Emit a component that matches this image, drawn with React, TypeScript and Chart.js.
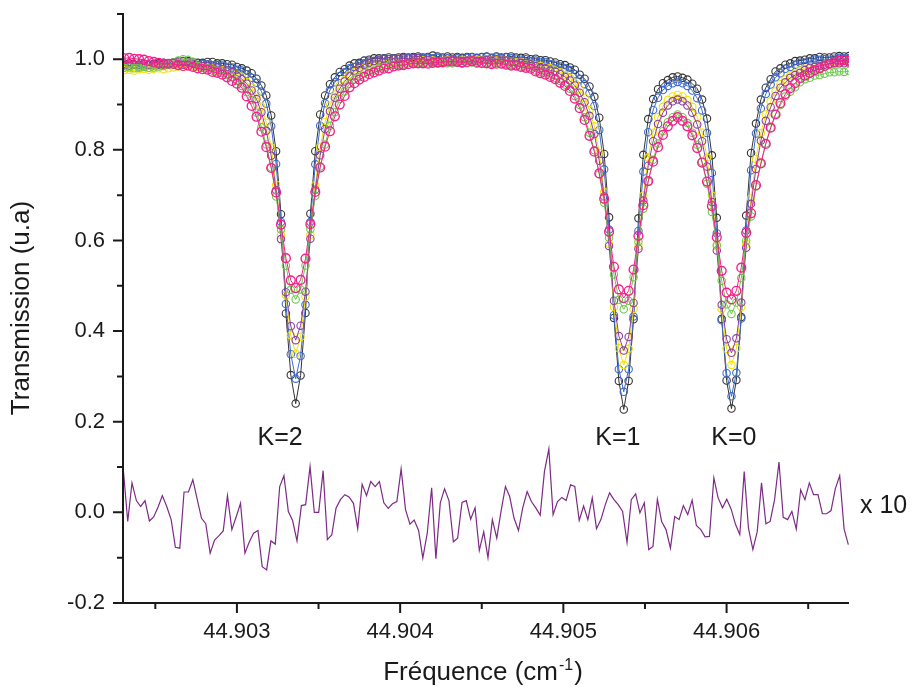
import React, { useEffect, useRef } from "react";
import { Chart, registerables } from "chart.js";

Chart.register(...registerables);

const FONT = '"Liberation Sans", Arial, Helvetica, sans-serif';
const INK = "#1a1a1a";

// Frequency grid of the measured spectra (cm-1)
const FREQ = [
  44.90231, 44.90234, 44.90237, 44.9024, 44.90243, 44.90246, 44.90249, 44.90252, 44.90255, 44.90258,
  44.90261, 44.90264, 44.90267, 44.9027, 44.90273, 44.90276, 44.90279, 44.90282, 44.90285, 44.90288,
  44.90291, 44.90294, 44.90297, 44.903, 44.90303, 44.90306, 44.90309, 44.90312, 44.90315, 44.90318,
  44.90321, 44.90324, 44.90327, 44.9033, 44.90333, 44.90336, 44.90339, 44.90342, 44.90345, 44.90348,
  44.90351, 44.90354, 44.90357, 44.9036, 44.90363, 44.90366, 44.90369, 44.90372, 44.90375, 44.90378,
  44.90381, 44.90384, 44.90387, 44.9039, 44.90393, 44.90396, 44.90399, 44.90402, 44.90405, 44.90408,
  44.90411, 44.90414, 44.90417, 44.9042, 44.90423, 44.90426, 44.90429, 44.90432, 44.90435, 44.90438,
  44.90441, 44.90444, 44.90447, 44.9045, 44.90453, 44.90456, 44.90459, 44.90462, 44.90465, 44.90468,
  44.90471, 44.90474, 44.90477, 44.9048, 44.90483, 44.90486, 44.90489, 44.90492, 44.90495, 44.90498,
  44.90501, 44.90504, 44.90507, 44.9051, 44.90513, 44.90516, 44.90519, 44.90522, 44.90525, 44.90528,
  44.90531, 44.90534, 44.90537, 44.9054, 44.90543, 44.90546, 44.90549, 44.90552, 44.90555, 44.90558,
  44.90561, 44.90564, 44.90567, 44.9057, 44.90573, 44.90576, 44.90579, 44.90582, 44.90585, 44.90588,
  44.90591, 44.90594, 44.90597, 44.906, 44.90603, 44.90606, 44.90609, 44.90612, 44.90615, 44.90618,
  44.90621, 44.90624, 44.90627, 44.9063, 44.90633, 44.90636, 44.90639, 44.90642, 44.90645, 44.90648,
  44.90651, 44.90654, 44.90657, 44.9066, 44.90663, 44.90666, 44.90669, 44.90672, 44.90675,
];

const BLACK = [
  0.99, 0.991, 0.989, 0.988, 0.99, 0.988, 0.99, 0.991, 0.992, 0.991,
  0.993, 0.995, 0.996, 0.996, 0.994, 0.992, 0.992, 0.994, 0.994, 0.991,
  0.991, 0.989, 0.988, 0.983, 0.98, 0.975, 0.969, 0.957, 0.942, 0.92,
  0.876, 0.797, 0.658, 0.439, 0.303, 0.24, 0.302, 0.44, 0.659, 0.797,
  0.878, 0.92, 0.945, 0.96, 0.972, 0.978, 0.986, 0.991, 0.992, 0.997,
  0.999, 1.002, 1.002, 1.002, 1.004, 1.002, 1.004, 1.005, 1.004, 1.005,
  1.006, 1.004, 1.005, 1.008, 1.006, 1.004, 1.006, 1.004, 1.005, 1.003,
  1.005, 1.005, 1.003, 1.005, 1.006, 1.003, 1.006, 1.004, 1.005, 1.006,
  1.004, 1.003, 1.004, 1.0, 1.001, 0.998, 0.998, 0.995, 0.993, 0.989,
  0.987, 0.982, 0.977, 0.966, 0.957, 0.94, 0.917, 0.871, 0.791, 0.651,
  0.429, 0.29, 0.227, 0.29, 0.426, 0.649, 0.789, 0.868, 0.912, 0.934,
  0.947, 0.954, 0.96, 0.962, 0.959, 0.955, 0.946, 0.935, 0.911, 0.869,
  0.788, 0.65, 0.427, 0.291, 0.229, 0.292, 0.431, 0.655, 0.793, 0.858,
  0.911, 0.937, 0.956, 0.973, 0.98, 0.988, 0.991, 0.996, 0.997, 0.999,
  1.002, 1.002, 1.005, 1.004, 1.004, 1.006, 1.007, 1.006, 1.007,
];

const BLUE = [
  0.986, 0.985, 0.987, 0.984, 0.985, 0.987, 0.986, 0.988, 0.986, 0.988,
  0.988, 0.99, 0.988, 0.99, 0.99, 0.987, 0.989, 0.989, 0.986, 0.987,
  0.986, 0.983, 0.982, 0.977, 0.975, 0.967, 0.959, 0.948, 0.929, 0.902,
  0.852, 0.769, 0.641, 0.46, 0.349, 0.295, 0.345, 0.458, 0.641, 0.768,
  0.853, 0.903, 0.932, 0.949, 0.963, 0.971, 0.98, 0.983, 0.989, 0.991,
  0.995, 0.996, 0.999, 1.001, 1.0, 1.001, 1.0, 1.002, 1.003, 1.002,
  1.003, 1.002, 1.003, 1.002, 1.003, 1.001, 1.002, 1.0, 1.002, 1.001,
  1.003, 1.004, 1.002, 1.004, 1.005, 1.002, 1.004, 1.002, 1.004, 1.002,
  1.001, 0.999, 1.0, 0.996, 0.997, 0.994, 0.994, 0.989, 0.988, 0.984,
  0.98, 0.976, 0.967, 0.956, 0.945, 0.925, 0.897, 0.844, 0.757, 0.624,
  0.435, 0.316, 0.266, 0.316, 0.432, 0.621, 0.752, 0.839, 0.888, 0.915,
  0.932, 0.941, 0.947, 0.95, 0.947, 0.941, 0.931, 0.914, 0.887, 0.837,
  0.749, 0.616, 0.424, 0.307, 0.256, 0.308, 0.428, 0.622, 0.755, 0.836,
  0.891, 0.923, 0.944, 0.96, 0.969, 0.979, 0.983, 0.988, 0.992, 0.993,
  0.996, 0.999, 0.999, 1.0, 0.999, 1.001, 1.003, 1.002, 1.002,
];

const YELLOW = [
  0.976, 0.977, 0.975, 0.978, 0.979, 0.977, 0.979, 0.98, 0.978, 0.98,
  0.982, 0.984, 0.983, 0.985, 0.984, 0.983, 0.982, 0.981, 0.98, 0.978,
  0.976, 0.974, 0.969, 0.966, 0.961, 0.95, 0.938, 0.921, 0.895, 0.86,
  0.805, 0.723, 0.612, 0.479, 0.391, 0.35, 0.387, 0.476, 0.612, 0.722,
  0.806, 0.861, 0.898, 0.922, 0.942, 0.954, 0.966, 0.971, 0.978, 0.981,
  0.985, 0.987, 0.991, 0.991, 0.992, 0.995, 0.995, 0.994, 0.996, 0.994,
  0.996, 0.998, 0.995, 0.997, 0.995, 0.996, 0.998, 0.995, 0.996, 0.997,
  0.998, 0.998, 0.999, 0.998, 1.0, 0.998, 0.997, 0.999, 0.997, 0.995,
  0.994, 0.994, 0.991, 0.99, 0.986, 0.985, 0.982, 0.98, 0.975, 0.971,
  0.965, 0.959, 0.948, 0.934, 0.915, 0.888, 0.852, 0.793, 0.707, 0.593,
  0.453, 0.362, 0.325, 0.361, 0.449, 0.587, 0.699, 0.783, 0.838, 0.872,
  0.895, 0.91, 0.918, 0.921, 0.918, 0.91, 0.895, 0.872, 0.838, 0.783,
  0.699, 0.587, 0.449, 0.361, 0.325, 0.362, 0.453, 0.593, 0.693, 0.78,
  0.837, 0.878, 0.907, 0.929, 0.945, 0.955, 0.964, 0.968, 0.975, 0.979,
  0.981, 0.982, 0.985, 0.988, 0.989, 0.989, 0.991, 0.993, 0.993,
];

const PURPLE = [
  0.987, 0.986, 0.988, 0.987, 0.989, 0.987, 0.989, 0.988, 0.989, 0.99,
  0.992, 0.993, 0.995, 0.993, 0.99, 0.987, 0.985, 0.985, 0.982, 0.982,
  0.978, 0.975, 0.971, 0.964, 0.956, 0.946, 0.931, 0.912, 0.883, 0.842,
  0.787, 0.711, 0.603, 0.486, 0.411, 0.38, 0.412, 0.487, 0.604, 0.712,
  0.788, 0.846, 0.885, 0.915, 0.935, 0.951, 0.962, 0.975, 0.981, 0.988,
  0.992, 0.996, 0.997, 1.0, 1.0, 1.001, 1.001, 1.002, 1.001, 1.002,
  1.002, 1.0, 0.999, 0.995, 0.996, 0.994, 0.996, 0.997, 0.995, 0.996,
  0.997, 0.999, 0.996, 0.997, 0.999, 0.997, 1.0, 0.999, 0.997, 0.995,
  0.996, 0.992, 0.992, 0.989, 0.985, 0.981, 0.98, 0.975, 0.973, 0.967,
  0.961, 0.953, 0.942, 0.926, 0.905, 0.875, 0.835, 0.776, 0.697, 0.588,
  0.467, 0.389, 0.357, 0.387, 0.462, 0.582, 0.688, 0.765, 0.819, 0.857,
  0.882, 0.898, 0.907, 0.911, 0.907, 0.898, 0.882, 0.856, 0.819, 0.763,
  0.685, 0.578, 0.458, 0.382, 0.352, 0.384, 0.463, 0.584, 0.681, 0.758,
  0.82, 0.864, 0.894, 0.919, 0.937, 0.949, 0.959, 0.965, 0.97, 0.976,
  0.981, 0.983, 0.985, 0.988, 0.99, 0.991, 0.991, 0.991, 0.993,
];

const GREEN = [
  0.981, 0.982, 0.98, 0.981, 0.983, 0.981, 0.982, 0.984, 0.985, 0.988,
  0.993, 0.997, 1.0, 0.999, 0.994, 0.985, 0.981, 0.98, 0.975, 0.973,
  0.969, 0.965, 0.96, 0.952, 0.941, 0.927, 0.91, 0.882, 0.85, 0.812,
  0.761, 0.697, 0.624, 0.544, 0.491, 0.47, 0.492, 0.545, 0.625, 0.698,
  0.763, 0.812, 0.853, 0.883, 0.912, 0.929, 0.946, 0.955, 0.961, 0.969,
  0.973, 0.975, 0.98, 0.982, 0.986, 0.987, 0.988, 0.988, 0.991, 0.992,
  0.992, 0.992, 0.991, 0.991, 0.99, 0.992, 0.991, 0.991, 0.992, 0.99,
  0.991, 0.993, 0.99, 0.99, 0.992, 0.99, 0.992, 0.989, 0.99, 0.988,
  0.986, 0.984, 0.984, 0.981, 0.975, 0.971, 0.969, 0.964, 0.958, 0.952,
  0.944, 0.935, 0.919, 0.899, 0.872, 0.838, 0.799, 0.746, 0.683, 0.606,
  0.525, 0.469, 0.448, 0.467, 0.519, 0.597, 0.67, 0.73, 0.778, 0.814,
  0.841, 0.861, 0.872, 0.878, 0.872, 0.859, 0.838, 0.811, 0.774, 0.725,
  0.663, 0.59, 0.511, 0.459, 0.438, 0.463, 0.517, 0.6, 0.653, 0.719,
  0.77, 0.814, 0.848, 0.879, 0.899, 0.918, 0.928, 0.938, 0.949, 0.956,
  0.959, 0.964, 0.965, 0.968, 0.971, 0.971, 0.973, 0.972, 0.974,
];

const PINK = [
  1.002, 1.003, 1.001, 1.0, 0.999, 0.996, 0.994, 0.992, 0.99, 0.99,
  0.99, 0.987, 0.985, 0.986, 0.983, 0.98, 0.978, 0.977, 0.972, 0.97,
  0.966, 0.96, 0.952, 0.946, 0.937, 0.918, 0.897, 0.873, 0.84, 0.806,
  0.76, 0.706, 0.635, 0.561, 0.512, 0.495, 0.513, 0.56, 0.636, 0.707,
  0.761, 0.807, 0.841, 0.874, 0.9, 0.919, 0.938, 0.947, 0.955, 0.961,
  0.967, 0.971, 0.975, 0.979, 0.98, 0.984, 0.986, 0.987, 0.989, 0.991,
  0.991, 0.991, 0.99, 0.992, 0.993, 0.993, 0.995, 0.995, 0.994, 0.993,
  0.994, 0.996, 0.994, 0.992, 0.991, 0.989, 0.99, 0.99, 0.988, 0.986,
  0.986, 0.983, 0.981, 0.979, 0.973, 0.969, 0.966, 0.961, 0.956, 0.948,
  0.941, 0.93, 0.913, 0.892, 0.866, 0.831, 0.796, 0.748, 0.692, 0.619,
  0.542, 0.492, 0.473, 0.489, 0.536, 0.61, 0.678, 0.731, 0.774, 0.806,
  0.833, 0.852, 0.864, 0.872, 0.864, 0.852, 0.832, 0.804, 0.772, 0.73,
  0.676, 0.607, 0.533, 0.485, 0.47, 0.489, 0.54, 0.617, 0.66, 0.722,
  0.77, 0.813, 0.849, 0.878, 0.903, 0.923, 0.936, 0.947, 0.958, 0.964,
  0.97, 0.976, 0.98, 0.985, 0.99, 0.994, 0.997, 0.998, 0.997,
];

// Residual (x 10) on its own frequency grid
const RES_FREQ = [
  44.902304, 44.902331, 44.902357, 44.902384, 44.90241, 44.902437, 44.902464, 44.90249, 44.902517, 44.902543,
  44.90257, 44.902597, 44.902623, 44.90265, 44.902676, 44.902703, 44.90273, 44.902756, 44.902783, 44.902809,
  44.902836, 44.902863, 44.902889, 44.902916, 44.902942, 44.902969, 44.902996, 44.903022, 44.903049, 44.903075,
  44.903102, 44.903129, 44.903155, 44.903182, 44.903208, 44.903235, 44.903262, 44.903288, 44.903315, 44.903341,
  44.903368, 44.903395, 44.903421, 44.903448, 44.903474, 44.903501, 44.903528, 44.903554, 44.903581, 44.903607,
  44.903634, 44.903661, 44.903687, 44.903714, 44.90374, 44.903767, 44.903794, 44.90382, 44.903847, 44.903873,
  44.9039, 44.903927, 44.903953, 44.90398, 44.904006, 44.904033, 44.90406, 44.904086, 44.904113, 44.904139,
  44.904166, 44.904193, 44.904219, 44.904246, 44.904272, 44.904299, 44.904326, 44.904352, 44.904379, 44.904405,
  44.904432, 44.904459, 44.904485, 44.904512, 44.904538, 44.904565, 44.904592, 44.904618, 44.904645, 44.904671,
  44.904698, 44.904725, 44.904751, 44.904778, 44.904804, 44.904831, 44.904858, 44.904884, 44.904911, 44.904937,
  44.904964, 44.904991, 44.905017, 44.905044, 44.90507, 44.905097, 44.905124, 44.90515, 44.905177, 44.905203,
  44.90523, 44.905257, 44.905283, 44.90531, 44.905336, 44.905363, 44.90539, 44.905416, 44.905443, 44.905469,
  44.905496, 44.905523, 44.905549, 44.905576, 44.905602, 44.905629, 44.905656, 44.905682, 44.905709, 44.905735,
  44.905762, 44.905789, 44.905815, 44.905842, 44.905868, 44.905895, 44.905922, 44.905948, 44.905975, 44.906001,
  44.906028, 44.906055, 44.906081, 44.906108, 44.906134, 44.906161, 44.906188, 44.906214, 44.906241, 44.906267,
  44.906294, 44.906321, 44.906347, 44.906374, 44.9064, 44.906427, 44.906454, 44.90648, 44.906507, 44.906533,
  44.90656, 44.906587, 44.906613, 44.90664, 44.906666, 44.906693, 44.90672, 44.906746,
];

const RESIDUAL = [
  0.094, -0.02, 0.065, 0.026, 0.013, 0.026, -0.019, -0.01, 0.012, 0.037,
  0.013, -0.016, -0.077, -0.079, 0.045, 0.045, 0.072, 0.03, -0.013, -0.025,
  -0.09, -0.061, -0.052, -0.041, 0.037, -0.038, -0.009, 0.02, -0.09, -0.066,
  -0.046, -0.04, -0.12, -0.127, -0.063, -0.07, 0.057, 0.081, 0.002, -0.018,
  -0.063, 0.015, 0.017, 0.101, 0.0, 0.0, 0.092, -0.06, -0.05, 0.009,
  0.028, 0.039, 0.034, 0.02, -0.036, 0.062, 0.037, 0.068, 0.057, 0.068,
  0.021, 0.009, 0.019, 0.024, 0.096, 0.006, -0.026, -0.017, -0.04, -0.101,
  -0.046, 0.054, -0.102, 0.021, 0.052, 0.026, -0.065, -0.057, 0.022, 0.026,
  -0.015, 0.01, -0.084, -0.043, -0.1, -0.016, -0.057, 0.002, 0.057, 0.035,
  -0.013, -0.04, 0.01, 0.046, 0.024, 0.01, -0.006, 0.09, 0.14, -0.005,
  0.024, 0.033, 0.026, 0.061, 0.057, -0.018, 0.014, -0.016, 0.032, -0.036,
  -0.016, 0.017, 0.043, 0.028, 0.017, 0.002, -0.066, 0.028, 0.041, -0.001,
  0.021, -0.082, -0.075, 0.029, -0.02, -0.038, -0.079, -0.009, -0.016, 0.015,
  -0.005, 0.027, -0.029, -0.038, -0.054, -0.053, 0.076, 0.032, 0.01, 0.029,
  0.007, -0.027, -0.049, 0.09, -0.035, -0.082, -0.042, 0.065, -0.025, -0.02,
  0.028, 0.111, -0.011, -0.016, 0.002, -0.037, 0.05, 0.028, 0.065, 0.039,
  0.039, -0.003, -0.003, 0.004, 0.052, 0.081, -0.037, -0.071,
];

const X_MIN = 44.902302;
const X_MAX = 44.90675;
const Y_MIN = -0.2;
const Y_MAX = 1.102;
const X_MAJOR = [44.903, 44.904, 44.905, 44.906];
const X_MINOR = [44.9025, 44.9035, 44.9045, 44.9055, 44.9065];
const Y_MAJOR = [-0.2, 0, 0.2, 0.4, 0.6, 0.8, 1.0];
const Y_MINOR = [-0.1, 0.1, 0.3, 0.5, 0.7, 0.9, 1.1];

const PEAK_LABELS = ["K=2", "K=1", "K=0"];
const PEAK_LABEL_X = [44.903265, 44.905334, 44.906045];
const PEAK_LABEL_Y = 0.163;
const SCALE_NOTE = "x 10";
const SCALE_NOTE_Y = 0.013;

const SERIES_STYLE = [
  { values: PINK, color: "#f5208b", radius: 4.4, border: 1.4 },
  { values: GREEN, color: "#6cc94c", radius: 3.7, border: 1.1 },
  { values: PURPLE, color: "#8b3fa0", radius: 3.7, border: 1.1 },
  { values: YELLOW, color: "#f2e200", radius: 3.7, border: 1.1 },
  { values: BLUE, color: "#3d6bd1", radius: 3.7, border: 1.1 },
  { values: BLACK, color: "#333333", radius: 3.7, border: 1.1 },
];

const decorPlugin = {
  id: "decor",
  afterDatasetsDraw(chart: any) {
    const { ctx, chartArea: a, scales } = chart;
    const xs = scales.x;
    const ys = scales.y;
    ctx.save();
    ctx.strokeStyle = INK;
    ctx.lineWidth = 2;
    ctx.beginPath();
    ctx.moveTo(a.left, a.top);
    ctx.lineTo(a.left, a.bottom + 1);
    ctx.moveTo(a.left - 1, a.bottom);
    ctx.lineTo(a.right, a.bottom);
    Y_MAJOR.forEach((v) => {
      const y = ys.getPixelForValue(v);
      ctx.moveTo(a.left - 10, y);
      ctx.lineTo(a.left, y);
    });
    Y_MINOR.forEach((v) => {
      const y = ys.getPixelForValue(v);
      ctx.moveTo(a.left - 6, y);
      ctx.lineTo(a.left, y);
    });
    X_MAJOR.forEach((v) => {
      const x = xs.getPixelForValue(v);
      ctx.moveTo(x, a.bottom);
      ctx.lineTo(x, a.bottom + 10);
    });
    X_MINOR.forEach((v) => {
      const x = xs.getPixelForValue(v);
      ctx.moveTo(x, a.bottom);
      ctx.lineTo(x, a.bottom + 6);
    });
    ctx.stroke();

    ctx.fillStyle = INK;
    ctx.font = `25px ${FONT}`;
    ctx.textAlign = "center";
    ctx.textBaseline = "middle";
    PEAK_LABELS.forEach((t, i) => {
      ctx.fillText(t, xs.getPixelForValue(PEAK_LABEL_X[i]), ys.getPixelForValue(PEAK_LABEL_Y));
    });
    ctx.textAlign = "left";
    ctx.fillText(SCALE_NOTE, a.right + 11, ys.getPixelForValue(SCALE_NOTE_Y));

    // x-axis title with superscript
    const main = "Fréquence (cm";
    const sup = "-1";
    const close = ")";
    ctx.textBaseline = "alphabetic";
    ctx.font = `26px ${FONT}`;
    const w1 = ctx.measureText(main).width;
    const w3 = ctx.measureText(close).width;
    ctx.font = `16px ${FONT}`;
    const w2 = ctx.measureText(sup).width;
    const total = w1 + w2 + w3;
    const cx = (a.left + a.right) / 2 - 4;
    const base = a.bottom + 77;
    const x0 = cx - total / 2;
    ctx.font = `26px ${FONT}`;
    ctx.fillText(main, x0, base);
    ctx.font = `16px ${FONT}`;
    ctx.fillText(sup, x0 + w1 + 1, base - 10);
    ctx.font = `26px ${FONT}`;
    ctx.fillText(close, x0 + w1 + w2 + 2, base);
    ctx.restore();
  },
};

export default function App() {
  const ref = useRef<HTMLCanvasElement>(null);
  useEffect(() => {
    if (!ref.current) return;
    const datasets: any[] = SERIES_STYLE.map((s, k) => ({
      data: FREQ.map((x, i) => ({ x, y: s.values[i] })),
      borderColor: s.color,
      borderWidth: 1,
      pointRadius: s.radius,
      pointBorderWidth: s.border,
      pointBorderColor: s.color,
      pointBackgroundColor: "rgba(0,0,0,0)",
      pointStyle: "circle",
      tension: 0,
      fill: false,
      order: k + 1,
    }));
    datasets.push({
      data: RES_FREQ.map((x, i) => ({ x, y: RESIDUAL[i] })),
      borderColor: "#7d2a86",
      borderWidth: 1.2,
      pointRadius: 0,
      tension: 0,
      fill: false,
      order: 10,
    });
    const chart = new Chart(ref.current, {
      type: "line",
      data: { datasets },
      options: {
        animation: false,
        responsive: false,
        devicePixelRatio: 1,
        events: [],
        layout: { padding: { top: 13, right: 65, bottom: 0, left: 0 } },
        plugins: { legend: { display: false }, tooltip: { enabled: false } },
        scales: {
          x: {
            type: "linear",
            min: X_MIN,
            max: X_MAX,
            grid: { display: false, drawTicks: false },
            border: { display: false },
            afterBuildTicks: (scale: any) => {
              scale.ticks = X_MAJOR.map((v) => ({ value: v }));
            },
            afterFit: (scale: any) => {
              scale.height = 84;
              scale.paddingLeft = 0;
              scale.paddingRight = 0;
            },
            ticks: {
              autoSkip: false,
              maxRotation: 0,
              padding: 16,
              color: INK,
              font: { family: FONT, size: 22 },
              callback: (v: any) => Number(v).toFixed(3),
            },
          },
          y: {
            type: "linear",
            min: Y_MIN,
            max: Y_MAX,
            grid: { display: false, drawTicks: false },
            border: { display: false },
            afterBuildTicks: (scale: any) => {
              scale.ticks = Y_MAJOR.map((v) => ({ value: v }));
            },
            afterFit: (scale: any) => {
              scale.width = 123;
              scale.paddingTop = 0;
              scale.paddingBottom = 0;
            },
            ticks: {
              autoSkip: false,
              padding: 18,
              color: INK,
              font: { family: FONT, size: 22 },
              callback: (v: any) => Number(v).toFixed(1),
            },
            title: {
              display: true,
              text: "Transmission (u.a)",
              color: INK,
              font: { family: FONT, size: 26 },
              padding: { top: 6, bottom: 0 },
            },
          },
        },
      },
      plugins: [decorPlugin],
    } as any);
    return () => chart.destroy();
  }, []);
  return (
    <div style={{ position: "fixed", left: 0, top: 0, width: 914, height: 687, background: "#fff" }}>
      <canvas ref={ref} width={914} height={687} style={{ display: "block", width: 914, height: 687 }} />
    </div>
  );
}
